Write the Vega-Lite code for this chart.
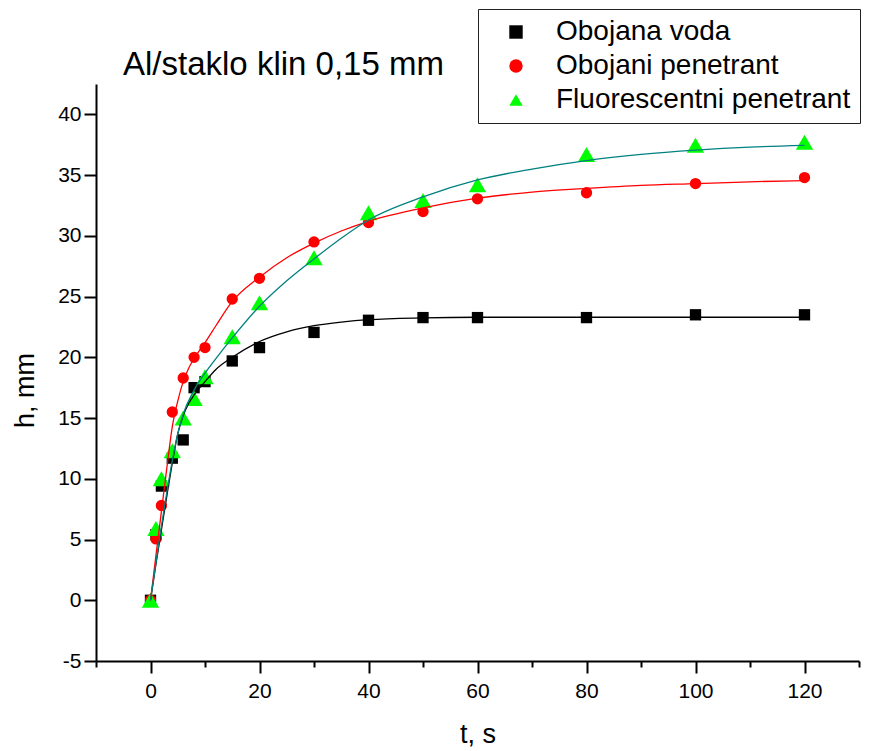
{
  "$schema": "https://vega.github.io/schema/vega-lite/v6.json",
  "width": 763,
  "height": 577,
  "autosize": {"type": "none"},
  "padding": {"left": 96, "top": 84, "right": 29, "bottom": 90},
  "background": "white",
  "config": {"view": {"stroke": null}, "font": "Liberation Sans"},
  "title": {"text": "Al/staklo klin 0,15 mm", "anchor": "start", "frame": "group", "dx": 27, "dy": 107, "offset": 8, "baseline": "alphabetic", "fontSize": 33, "fontWeight": "normal", "font": "Liberation Sans", "color": "black"},
  "datasets": {
    "pts": [
      {"t": 0, "h": 0, "series": "Obojana voda"},
      {"t": 1, "h": 5.4, "series": "Obojana voda"},
      {"t": 2, "h": 9.4, "series": "Obojana voda"},
      {"t": 4, "h": 11.7, "series": "Obojana voda"},
      {"t": 6, "h": 13.2, "series": "Obojana voda"},
      {"t": 8, "h": 17.5, "series": "Obojana voda"},
      {"t": 10, "h": 18.0, "series": "Obojana voda"},
      {"t": 15, "h": 19.7, "series": "Obojana voda"},
      {"t": 20, "h": 20.8, "series": "Obojana voda"},
      {"t": 30, "h": 22.05, "series": "Obojana voda"},
      {"t": 40, "h": 23.05, "series": "Obojana voda"},
      {"t": 50, "h": 23.27, "series": "Obojana voda"},
      {"t": 60, "h": 23.27, "series": "Obojana voda"},
      {"t": 80, "h": 23.27, "series": "Obojana voda"},
      {"t": 100, "h": 23.5, "series": "Obojana voda"},
      {"t": 120, "h": 23.5, "series": "Obojana voda"},
      {"t": 0, "h": 0, "series": "Obojani penetrant"},
      {"t": 1, "h": 5.05, "series": "Obojani penetrant"},
      {"t": 2, "h": 7.8, "series": "Obojani penetrant"},
      {"t": 4, "h": 15.5, "series": "Obojani penetrant"},
      {"t": 6, "h": 18.3, "series": "Obojani penetrant"},
      {"t": 8, "h": 20.0, "series": "Obojani penetrant"},
      {"t": 10, "h": 20.8, "series": "Obojani penetrant"},
      {"t": 15, "h": 24.8, "series": "Obojani penetrant"},
      {"t": 20, "h": 26.5, "series": "Obojani penetrant"},
      {"t": 30, "h": 29.5, "series": "Obojani penetrant"},
      {"t": 40, "h": 31.1, "series": "Obojani penetrant"},
      {"t": 50, "h": 32.0, "series": "Obojani penetrant"},
      {"t": 60, "h": 33.05, "series": "Obojani penetrant"},
      {"t": 80, "h": 33.55, "series": "Obojani penetrant"},
      {"t": 100, "h": 34.3, "series": "Obojani penetrant"},
      {"t": 120, "h": 34.8, "series": "Obojani penetrant"},
      {"t": 0, "h": 0, "series": "Fluorescentni penetrant"},
      {"t": 1, "h": 5.9, "series": "Fluorescentni penetrant"},
      {"t": 2, "h": 10.0, "series": "Fluorescentni penetrant"},
      {"t": 4, "h": 12.3, "series": "Fluorescentni penetrant"},
      {"t": 6, "h": 15.0, "series": "Fluorescentni penetrant"},
      {"t": 8, "h": 16.6, "series": "Fluorescentni penetrant"},
      {"t": 10, "h": 18.4, "series": "Fluorescentni penetrant"},
      {"t": 15, "h": 21.7, "series": "Fluorescentni penetrant"},
      {"t": 20, "h": 24.5, "series": "Fluorescentni penetrant"},
      {"t": 30, "h": 28.2, "series": "Fluorescentni penetrant"},
      {"t": 40, "h": 31.9, "series": "Fluorescentni penetrant"},
      {"t": 50, "h": 32.9, "series": "Fluorescentni penetrant"},
      {"t": 60, "h": 34.2, "series": "Fluorescentni penetrant"},
      {"t": 80, "h": 36.7, "series": "Fluorescentni penetrant"},
      {"t": 100, "h": 37.45, "series": "Fluorescentni penetrant"},
      {"t": 120, "h": 37.7, "series": "Fluorescentni penetrant"}
    ],
    "fit": [
      {"t": 0, "h": 0, "series": "Obojana voda"},
      {"t": 1, "h": 3.0, "series": "Obojana voda"},
      {"t": 2, "h": 5.8, "series": "Obojana voda"},
      {"t": 3, "h": 8.6, "series": "Obojana voda"},
      {"t": 4, "h": 11.3, "series": "Obojana voda"},
      {"t": 5, "h": 13.7, "series": "Obojana voda"},
      {"t": 6, "h": 15.2, "series": "Obojana voda"},
      {"t": 7, "h": 16.2, "series": "Obojana voda"},
      {"t": 8, "h": 16.9, "series": "Obojana voda"},
      {"t": 10, "h": 18.0, "series": "Obojana voda"},
      {"t": 12, "h": 19.0, "series": "Obojana voda"},
      {"t": 15, "h": 20.0, "series": "Obojana voda"},
      {"t": 20, "h": 21.3, "series": "Obojana voda"},
      {"t": 25, "h": 22.1, "series": "Obojana voda"},
      {"t": 30, "h": 22.6, "series": "Obojana voda"},
      {"t": 35, "h": 22.9, "series": "Obojana voda"},
      {"t": 40, "h": 23.1, "series": "Obojana voda"},
      {"t": 50, "h": 23.25, "series": "Obojana voda"},
      {"t": 60, "h": 23.3, "series": "Obojana voda"},
      {"t": 80, "h": 23.3, "series": "Obojana voda"},
      {"t": 100, "h": 23.3, "series": "Obojana voda"},
      {"t": 120, "h": 23.3, "series": "Obojana voda"},
      {"t": 0, "h": 0, "series": "Obojani penetrant"},
      {"t": 1, "h": 3.7, "series": "Obojani penetrant"},
      {"t": 2, "h": 7.3, "series": "Obojani penetrant"},
      {"t": 3, "h": 10.9, "series": "Obojani penetrant"},
      {"t": 4, "h": 14.3, "series": "Obojani penetrant"},
      {"t": 5, "h": 16.4, "series": "Obojani penetrant"},
      {"t": 6, "h": 18.0, "series": "Obojani penetrant"},
      {"t": 7, "h": 19.1, "series": "Obojani penetrant"},
      {"t": 8, "h": 19.9, "series": "Obojani penetrant"},
      {"t": 10, "h": 21.2, "series": "Obojani penetrant"},
      {"t": 12, "h": 22.6, "series": "Obojani penetrant"},
      {"t": 15, "h": 24.6, "series": "Obojani penetrant"},
      {"t": 20, "h": 26.6, "series": "Obojani penetrant"},
      {"t": 25, "h": 28.2, "series": "Obojani penetrant"},
      {"t": 30, "h": 29.4, "series": "Obojani penetrant"},
      {"t": 35, "h": 30.4, "series": "Obojani penetrant"},
      {"t": 40, "h": 31.2, "series": "Obojani penetrant"},
      {"t": 50, "h": 32.3, "series": "Obojani penetrant"},
      {"t": 60, "h": 33.1, "series": "Obojani penetrant"},
      {"t": 70, "h": 33.6, "series": "Obojani penetrant"},
      {"t": 80, "h": 33.9, "series": "Obojani penetrant"},
      {"t": 90, "h": 34.15, "series": "Obojani penetrant"},
      {"t": 100, "h": 34.3, "series": "Obojani penetrant"},
      {"t": 110, "h": 34.45, "series": "Obojani penetrant"},
      {"t": 120, "h": 34.55, "series": "Obojani penetrant"},
      {"t": 0, "h": 0, "series": "Fluorescentni penetrant"},
      {"t": 1, "h": 3.1, "series": "Fluorescentni penetrant"},
      {"t": 2, "h": 6.1, "series": "Fluorescentni penetrant"},
      {"t": 3, "h": 8.9, "series": "Fluorescentni penetrant"},
      {"t": 4, "h": 11.5, "series": "Fluorescentni penetrant"},
      {"t": 5, "h": 13.7, "series": "Fluorescentni penetrant"},
      {"t": 6, "h": 15.3, "series": "Fluorescentni penetrant"},
      {"t": 8, "h": 17.3, "series": "Fluorescentni penetrant"},
      {"t": 10, "h": 18.7, "series": "Fluorescentni penetrant"},
      {"t": 12, "h": 19.9, "series": "Fluorescentni penetrant"},
      {"t": 15, "h": 21.6, "series": "Fluorescentni penetrant"},
      {"t": 20, "h": 24.2, "series": "Fluorescentni penetrant"},
      {"t": 25, "h": 26.3, "series": "Fluorescentni penetrant"},
      {"t": 30, "h": 28.1, "series": "Fluorescentni penetrant"},
      {"t": 35, "h": 29.8, "series": "Fluorescentni penetrant"},
      {"t": 40, "h": 31.3, "series": "Fluorescentni penetrant"},
      {"t": 50, "h": 33.2, "series": "Fluorescentni penetrant"},
      {"t": 60, "h": 34.6, "series": "Fluorescentni penetrant"},
      {"t": 70, "h": 35.5, "series": "Fluorescentni penetrant"},
      {"t": 80, "h": 36.2, "series": "Fluorescentni penetrant"},
      {"t": 90, "h": 36.7, "series": "Fluorescentni penetrant"},
      {"t": 100, "h": 37.05, "series": "Fluorescentni penetrant"},
      {"t": 110, "h": 37.3, "series": "Fluorescentni penetrant"},
      {"t": 120, "h": 37.45, "series": "Fluorescentni penetrant"}
    ]
  },
  "layer": [
    {
      "data": {"name": "pts"},
      "mark": {"type": "point", "filled": true, "opacity": 1, "strokeWidth": 0},
      "encoding": {
        "x": {
          "field": "t", "type": "quantitative",
          "scale": {"domain": [-10, 130], "nice": false, "zero": false},
          "axis": {
            "values": [-10, 0, 10, 20, 30, 40, 50, 60, 70, 80, 90, 100, 110, 120, 130],
            "tickSize": {"condition": {"test": "datum.value % 20 === 0", "value": 12}, "value": 6},
            "labelExpr": "datum.value % 20 === 0 ? datum.label : ''",
            "title": "t, s", "titleFontSize": 27, "titleFontWeight": "normal", "titleFont": "Liberation Sans", "titleColor": "black", "titlePadding": 20,
            "labelFontSize": 21, "labelFont": "Liberation Sans", "labelColor": "black", "labelPadding": 7, "labelFlush": false, "labelOverlap": false,
            "domainColor": "black", "domainWidth": 2, "tickColor": "black", "tickWidth": 2, "grid": false
          }
        },
        "y": {
          "field": "h", "type": "quantitative",
          "scale": {"domain": [-5, 42.5], "nice": false, "zero": false},
          "axis": {
            "values": [-5, -2.5, 0, 2.5, 5, 7.5, 10, 12.5, 15, 17.5, 20, 22.5, 25, 27.5, 30, 32.5, 35, 37.5, 40, 42.5],
            "tickSize": {"condition": {"test": "datum.value % 5 === 0", "value": 12}, "value": 6},
            "labelExpr": "datum.value % 5 === 0 ? replace(datum.label, '\u2212', '-') : ''",
            "title": "h, mm", "titleFontSize": 27, "titleFontWeight": "normal", "titleFont": "Liberation Sans", "titleColor": "black", "titlePadding": 18, "titleY": 306,
            "labelFontSize": 21, "labelFont": "Liberation Sans", "labelColor": "black", "labelPadding": 3, "labelFlush": false, "labelOverlap": false,
            "domainColor": "black", "domainWidth": 2, "tickColor": "black", "tickWidth": 2, "grid": false
          }
        },
        "color": {
          "field": "series", "type": "nominal",
          "scale": {"domain": ["Obojana voda", "Obojani penetrant", "Fluorescentni penetrant"], "range": ["#000000", "#ff0000", "#00ff00"]},
          "legend": {
            "orient": "none", "legendX": 382, "legendY": -75, "title": null,
            "strokeColor": "#222222", "fillColor": "white", "padding": 9,
            "labelFontSize": 28, "labelFont": "Liberation Sans", "labelColor": "black", "labelLimit": 600,
            "symbolSize": 180, "symbolStrokeWidth": 0, "symbolOffset": 15, "labelOffset": 26, "rowPadding": 6,
            "encode": {"symbols": {"update": {"size": [{"test": "datum.value === 'Fluorescentni penetrant'", "value": 280}, {"value": 150}]}}}
          }
        },
        "shape": {
          "field": "series", "type": "nominal",
          "scale": {"domain": ["Obojana voda", "Obojani penetrant", "Fluorescentni penetrant"], "range": ["square", "circle", "triangle-up"]}
        },
        "size": {
          "condition": {"test": "datum.series === 'Fluorescentni penetrant'", "value": 300},
          "value": 128
        }
      }
    },
    {
      "data": {"name": "fit"},
      "mark": {"type": "line", "interpolate": "monotone", "strokeWidth": 1.3},
      "encoding": {
        "x": {"field": "t", "type": "quantitative"},
        "y": {"field": "h", "type": "quantitative"},
        "stroke": {
          "field": "series", "type": "nominal",
          "scale": {"domain": ["Obojana voda", "Obojani penetrant", "Fluorescentni penetrant"], "range": ["#000000", "#ff0000", "#008080"]},
          "legend": null
        }
      }
    }
  ]
}
